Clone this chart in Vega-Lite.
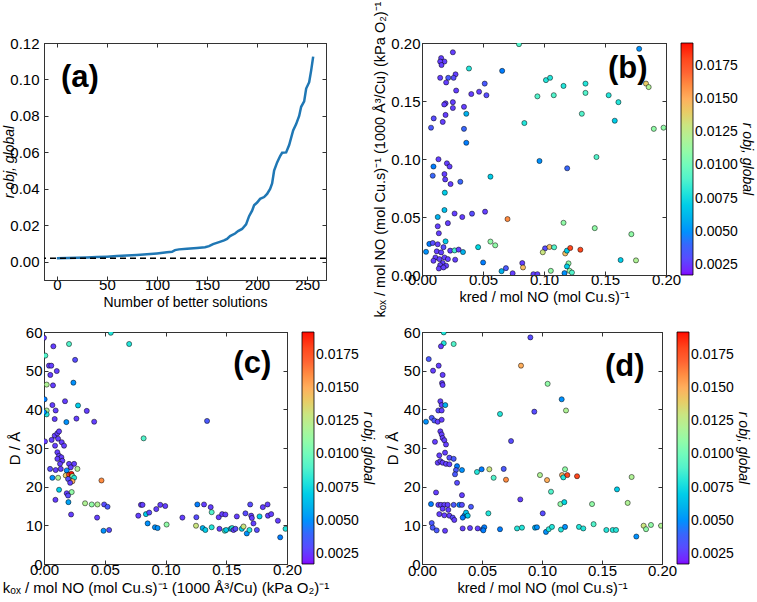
{
  "$schema": "https://vega.github.io/schema/vega-lite/v6.json",
  "background": "white",
  "padding": {"left": 1, "top": 0, "right": 0, "bottom": 0},
  "bounds": "flush",
  "columns": 2,
  "spacing": {"row": 52, "column": 96},
  "resolve": {"scale": {"color": "independent"}, "legend": {"color": "independent"}},
  "datasets": {
    "curve": [
      {"n": 0, "r": 0.0019}, {"n": 10, "r": 0.0020}, {"n": 20, "r": 0.0022}, {"n": 30, "r": 0.0024},
      {"n": 40, "r": 0.0026}, {"n": 50, "r": 0.0028}, {"n": 60, "r": 0.0031}, {"n": 70, "r": 0.0034},
      {"n": 80, "r": 0.0037}, {"n": 90, "r": 0.0041}, {"n": 100, "r": 0.0046}, {"n": 110, "r": 0.0052},
      {"n": 115, "r": 0.0055}, {"n": 118, "r": 0.0064}, {"n": 122, "r": 0.0068}, {"n": 130, "r": 0.0072},
      {"n": 140, "r": 0.0076}, {"n": 148, "r": 0.0080}, {"n": 152, "r": 0.0086}, {"n": 156, "r": 0.0097},
      {"n": 162, "r": 0.0108}, {"n": 167, "r": 0.0117}, {"n": 170, "r": 0.0125}, {"n": 173, "r": 0.0141},
      {"n": 178, "r": 0.0155}, {"n": 181, "r": 0.0168}, {"n": 185, "r": 0.0180}, {"n": 189, "r": 0.0205},
      {"n": 192, "r": 0.0250}, {"n": 195, "r": 0.0280}, {"n": 197, "r": 0.0310}, {"n": 200, "r": 0.0325},
      {"n": 203, "r": 0.0345}, {"n": 207, "r": 0.0355}, {"n": 210, "r": 0.0372}, {"n": 213, "r": 0.0400},
      {"n": 215, "r": 0.0430}, {"n": 217, "r": 0.0500}, {"n": 220, "r": 0.0545}, {"n": 223, "r": 0.0580},
      {"n": 225, "r": 0.0598}, {"n": 229, "r": 0.0600}, {"n": 232, "r": 0.0640}, {"n": 236, "r": 0.0720},
      {"n": 239, "r": 0.0755}, {"n": 242, "r": 0.0800}, {"n": 244, "r": 0.0850}, {"n": 247, "r": 0.0880},
      {"n": 249, "r": 0.0950}, {"n": 252, "r": 0.0985}, {"n": 254, "r": 0.1050}, {"n": 256, "r": 0.1125}
    ],
    "b": [
      {"kred": 0.0253, "kox": 0.192, "r": 0.0026}, {"kred": 0.0157, "kox": 0.187, "r": 0.0026},
      {"kred": 0.0184, "kox": 0.184, "r": 0.0026}, {"kred": 0.0149, "kox": 0.184, "r": 0.0026},
      {"kred": 0.016, "kox": 0.181, "r": 0.0026}, {"kred": 0.0385, "kox": 0.178, "r": 0.008},
      {"kred": 0.0657, "kox": 0.176, "r": 0.0045}, {"kred": 0.0795, "kox": 0.199, "r": 0.009},
      {"kred": 0.0275, "kox": 0.173, "r": 0.0026}, {"kred": 0.0259, "kox": 0.170, "r": 0.003},
      {"kred": 0.0215, "kox": 0.170, "r": 0.0035}, {"kred": 0.0149, "kox": 0.170, "r": 0.0026},
      {"kred": 0.0198, "kox": 0.166, "r": 0.0026}, {"kred": 0.0514, "kox": 0.165, "r": 0.0035},
      {"kred": 0.028, "kox": 0.159, "r": 0.0026}, {"kred": 0.0404, "kox": 0.156, "r": 0.0026},
      {"kred": 0.0468, "kox": 0.158, "r": 0.0026}, {"kred": 0.0528, "kox": 0.155, "r": 0.003},
      {"kred": 0.0946, "kox": 0.154, "r": 0.009}, {"kred": 0.0193, "kox": 0.148, "r": 0.0026},
      {"kred": 0.0182, "kox": 0.147, "r": 0.0026}, {"kred": 0.0253, "kox": 0.149, "r": 0.0026},
      {"kred": 0.0253, "kox": 0.144, "r": 0.0026}, {"kred": 0.0344, "kox": 0.145, "r": 0.0026},
      {"kred": 0.0363, "kox": 0.139, "r": 0.006}, {"kred": 0.0193, "kox": 0.138, "r": 0.0026},
      {"kred": 0.0096, "kox": 0.135, "r": 0.003}, {"kred": 0.017, "kox": 0.132, "r": 0.0026},
      {"kred": 0.0074, "kox": 0.127, "r": 0.0035}, {"kred": 0.0344, "kox": 0.126, "r": 0.004},
      {"kred": 0.0839, "kox": 0.131, "r": 0.008}, {"kred": 0.0363, "kox": 0.114, "r": 0.0045},
      {"kred": 0.0135, "kox": 0.0998, "r": 0.0026}, {"kred": 0.0204, "kox": 0.0963, "r": 0.0026},
      {"kred": 0.0226, "kox": 0.0935, "r": 0.0026}, {"kred": 0.0094, "kox": 0.0935, "r": 0.0045},
      {"kred": 0.0088, "kox": 0.0856, "r": 0.004}, {"kred": 0.0184, "kox": 0.087, "r": 0.0026},
      {"kred": 0.019, "kox": 0.0824, "r": 0.0026}, {"kred": 0.0234, "kox": 0.0784, "r": 0.0026},
      {"kred": 0.0314, "kox": 0.0804, "r": 0.004}, {"kred": 0.0561, "kox": 0.0848, "r": 0.007},
      {"kred": 0.0963, "kox": 0.0983, "r": 0.005}, {"kred": 0.0187, "kox": 0.071, "r": 0.007},
      {"kred": 0.0184, "kox": 0.056, "r": 0.0065}, {"kred": 0.0129, "kox": 0.050, "r": 0.006},
      {"kred": 0.0267, "kox": 0.053, "r": 0.0026}, {"kred": 0.033, "kox": 0.050, "r": 0.0026},
      {"kred": 0.041, "kox": 0.0529, "r": 0.003}, {"kred": 0.0517, "kox": 0.0546, "r": 0.0026},
      {"kred": 0.0212, "kox": 0.0447, "r": 0.0026}, {"kred": 0.0129, "kox": 0.042, "r": 0.0026},
      {"kred": 0.0138, "kox": 0.036, "r": 0.0026}, {"kred": 0.0701, "kox": 0.0482, "r": 0.016},
      {"kred": 0.006, "kox": 0.0268, "r": 0.0045}, {"kred": 0.0088, "kox": 0.0276, "r": 0.003},
      {"kred": 0.0033, "kox": 0.020, "r": 0.005}, {"kred": 0.0129, "kox": 0.0265, "r": 0.0026},
      {"kred": 0.0193, "kox": 0.029, "r": 0.007}, {"kred": 0.0121, "kox": 0.0204, "r": 0.0026},
      {"kred": 0.0157, "kox": 0.0195, "r": 0.0026}, {"kred": 0.0176, "kox": 0.024, "r": 0.003},
      {"kred": 0.0231, "kox": 0.021, "r": 0.0026}, {"kred": 0.0267, "kox": 0.0212, "r": 0.0085},
      {"kred": 0.03, "kox": 0.0219, "r": 0.0026}, {"kred": 0.0336, "kox": 0.0198, "r": 0.006},
      {"kred": 0.011, "kox": 0.0151, "r": 0.0026}, {"kred": 0.0143, "kox": 0.0137, "r": 0.0026},
      {"kred": 0.0184, "kox": 0.0151, "r": 0.0026}, {"kred": 0.0212, "kox": 0.0137, "r": 0.0026},
      {"kred": 0.0272, "kox": 0.0132, "r": 0.0026}, {"kred": 0.0094, "kox": 0.0123, "r": 0.0026},
      {"kred": 0.017, "kox": 0.0103, "r": 0.0026}, {"kred": 0.0149, "kox": 0.0085, "r": 0.0026},
      {"kred": 0.0198, "kox": 0.008, "r": 0.0026}, {"kred": 0.0138, "kox": 0.0056, "r": 0.0026},
      {"kred": 0.0176, "kox": 0.0065, "r": 0.0026}, {"kred": 0.046, "kox": 0.024, "r": 0.0075},
      {"kred": 0.0561, "kox": 0.0288, "r": 0.011}, {"kred": 0.06, "kox": 0.0256, "r": 0.011},
      {"kred": 0.0501, "kox": 0.0108, "r": 0.0045}, {"kred": 0.0652, "kox": 0.0033, "r": 0.006},
      {"kred": 0.0688, "kox": 0.0059, "r": 0.0035}, {"kred": 0.0743, "kox": 0.0015, "r": 0.0026},
      {"kred": 0.0822, "kox": 0.0103, "r": 0.0026}, {"kred": 0.0828, "kox": 0.0065, "r": 0.0145},
      {"kred": 0.0913, "kox": 0.0007, "r": 0.0026}, {"kred": 0.0946, "kox": 0.0007, "r": 0.0026},
      {"kred": 0.1016, "kox": 0.168, "r": 0.008}, {"kred": 0.105, "kox": 0.170, "r": 0.008},
      {"kred": 0.108, "kox": 0.155, "r": 0.009}, {"kred": 0.116, "kox": 0.163, "r": 0.008},
      {"kred": 0.134, "kox": 0.165, "r": 0.008}, {"kred": 0.134, "kox": 0.157, "r": 0.009},
      {"kred": 0.131, "kox": 0.139, "r": 0.009}, {"kred": 0.153, "kox": 0.155, "r": 0.008},
      {"kred": 0.161, "kox": 0.149, "r": 0.008}, {"kred": 0.158, "kox": 0.133, "r": 0.007},
      {"kred": 0.178, "kox": 0.195, "r": 0.005}, {"kred": 0.1836, "kox": 0.165, "r": 0.014},
      {"kred": 0.1858, "kox": 0.162, "r": 0.012}, {"kred": 0.19, "kox": 0.126, "r": 0.011},
      {"kred": 0.198, "kox": 0.127, "r": 0.011}, {"kred": 0.143, "kox": 0.1017, "r": 0.009},
      {"kred": 0.119, "kox": 0.092, "r": 0.004}, {"kred": 0.116, "kox": 0.045, "r": 0.011},
      {"kred": 0.1416, "kox": 0.0404, "r": 0.011}, {"kred": 0.1716, "kox": 0.0352, "r": 0.011},
      {"kred": 0.1009, "kox": 0.023, "r": 0.003}, {"kred": 0.1045, "kox": 0.0242, "r": 0.0145},
      {"kred": 0.099, "kox": 0.0196, "r": 0.013}, {"kred": 0.1083, "kox": 0.0239, "r": 0.009},
      {"kred": 0.1174, "kox": 0.0186, "r": 0.0145}, {"kred": 0.1188, "kox": 0.021, "r": 0.007},
      {"kred": 0.1215, "kox": 0.0233, "r": 0.018}, {"kred": 0.1298, "kox": 0.0218, "r": 0.018},
      {"kred": 0.1628, "kox": 0.0129, "r": 0.007}, {"kred": 0.1754, "kox": 0.0126, "r": 0.012},
      {"kred": 0.1201, "kox": 0.01, "r": 0.011}, {"kred": 0.1188, "kox": 0.0074, "r": 0.007},
      {"kred": 0.1056, "kox": 0.0036, "r": 0.011}, {"kred": 0.1168, "kox": 0.0016, "r": 0.005},
      {"kred": 0.121, "kox": 0.0036, "r": 0.011}, {"kred": 0.1229, "kox": 0.0021, "r": 0.009}
    ],
    "c": [
      {"kox": 0.0, "D": 58.5, "r": 0.0026}, {"kox": 0.0077, "D": 56.3, "r": 0.0026},
      {"kox": 0.0206, "D": 56.9, "r": 0.009}, {"kox": 0.055, "D": 59.8, "r": 0.008},
      {"kox": 0.0701, "D": 56.9, "r": 0.008}, {"kox": 0.0011, "D": 53.9, "r": 0.009},
      {"kox": 0.0256, "D": 52.8, "r": 0.003}, {"kox": 0.0041, "D": 51.3, "r": 0.0026},
      {"kox": 0.006, "D": 51.3, "r": 0.0026}, {"kox": 0.0105, "D": 49.9, "r": 0.0026},
      {"kox": 0.0052, "D": 48.9, "r": 0.0026}, {"kox": 0.0242, "D": 46.9, "r": 0.005},
      {"kox": 0.0022, "D": 46.4, "r": 0.012}, {"kox": 0.0074, "D": 46.2, "r": 0.0026},
      {"kox": 0.0005, "D": 42.6, "r": 0.0045}, {"kox": 0.0173, "D": 42.1, "r": 0.0026},
      {"kox": 0.0069, "D": 41.1, "r": 0.0026}, {"kox": 0.028, "D": 41.0, "r": 0.007},
      {"kox": 0.0352, "D": 39.6, "r": 0.0026}, {"kox": 0.0413, "D": 36.8, "r": 0.0026},
      {"kox": 0.0022, "D": 39.7, "r": 0.012}, {"kox": 0.0022, "D": 38.7, "r": 0.008},
      {"kox": 0.0, "D": 39.3, "r": 0.005}, {"kox": 0.0096, "D": 39.7, "r": 0.0026},
      {"kox": 0.0088, "D": 37.5, "r": 0.0026}, {"kox": 0.0267, "D": 37.6, "r": 0.0026},
      {"kox": 0.0184, "D": 36.7, "r": 0.005}, {"kox": 0.0008, "D": 31.7, "r": 0.0026},
      {"kox": 0.0088, "D": 33.2, "r": 0.0026}, {"kox": 0.011, "D": 33.8, "r": 0.0026},
      {"kox": 0.0124, "D": 34.3, "r": 0.0026}, {"kox": 0.0063, "D": 32.1, "r": 0.0026},
      {"kox": 0.0116, "D": 32.4, "r": 0.0026}, {"kox": 0.0091, "D": 30.6, "r": 0.0026},
      {"kox": 0.0146, "D": 31.5, "r": 0.0026}, {"kox": 0.0165, "D": 30.6, "r": 0.0026},
      {"kox": 0.011, "D": 28.9, "r": 0.0026}, {"kox": 0.0124, "D": 28.0, "r": 0.0026},
      {"kox": 0.0143, "D": 27.6, "r": 0.0026}, {"kox": 0.011, "D": 27.2, "r": 0.0026},
      {"kox": 0.0151, "D": 26.7, "r": 0.0026}, {"kox": 0.0132, "D": 25.9, "r": 0.0026},
      {"kox": 0.0206, "D": 25.9, "r": 0.0026}, {"kox": 0.0248, "D": 25.9, "r": 0.0026},
      {"kox": 0.022, "D": 25.0, "r": 0.0026}, {"kox": 0.005, "D": 24.6, "r": 0.003},
      {"kox": 0.0096, "D": 24.3, "r": 0.0026}, {"kox": 0.0138, "D": 24.6, "r": 0.0026},
      {"kox": 0.0187, "D": 24.2, "r": 0.005}, {"kox": 0.0275, "D": 24.6, "r": 0.012},
      {"kox": 0.0069, "D": 22.3, "r": 0.005}, {"kox": 0.0116, "D": 22.3, "r": 0.012},
      {"kox": 0.0179, "D": 22.9, "r": 0.014}, {"kox": 0.0206, "D": 23.1, "r": 0.018},
      {"kox": 0.0226, "D": 23.3, "r": 0.019}, {"kox": 0.0234, "D": 22.7, "r": 0.011},
      {"kox": 0.0248, "D": 22.3, "r": 0.008}, {"kox": 0.0198, "D": 22.0, "r": 0.003},
      {"kox": 0.0234, "D": 21.4, "r": 0.015}, {"kox": 0.0215, "D": 21.0, "r": 0.0026},
      {"kox": 0.0473, "D": 21.6, "r": 0.016}, {"kox": 0.0124, "D": 19.2, "r": 0.007},
      {"kox": 0.0228, "D": 18.6, "r": 0.011}, {"kox": 0.0187, "D": 18.3, "r": 0.0026},
      {"kox": 0.0198, "D": 17.7, "r": 0.003}, {"kox": 0.0338, "D": 15.7, "r": 0.012},
      {"kox": 0.0393, "D": 15.4, "r": 0.011}, {"kox": 0.044, "D": 15.4, "r": 0.012},
      {"kox": 0.0495, "D": 15.4, "r": 0.003}, {"kox": 0.0523, "D": 14.8, "r": 0.0035},
      {"kox": 0.0094, "D": 16.6, "r": 0.0026}, {"kox": 0.0201, "D": 16.0, "r": 0.0055},
      {"kox": 0.0223, "D": 12.8, "r": 0.0026}, {"kox": 0.0437, "D": 12.0, "r": 0.0026},
      {"kox": 0.049, "D": 8.6, "r": 0.005}, {"kox": 0.0536, "D": 8.8, "r": 0.003},
      {"kox": 0.0798, "D": 15.3, "r": 0.0026}, {"kox": 0.0811, "D": 15.3, "r": 0.0026},
      {"kox": 0.0776, "D": 12.5, "r": 0.0026}, {"kox": 0.0839, "D": 12.9, "r": 0.007},
      {"kox": 0.0853, "D": 10.5, "r": 0.005}, {"kox": 0.0866, "D": 13.3, "r": 0.003},
      {"kox": 0.0924, "D": 14.2, "r": 0.0026}, {"kox": 0.0913, "D": 9.5, "r": 0.005},
      {"kox": 0.0935, "D": 9.3, "r": 0.005}, {"kox": 0.0957, "D": 15.3, "r": 0.0026},
      {"kox": 0.0998, "D": 15.0, "r": 0.0026}, {"kox": 0.1009, "D": 10.2, "r": 0.011},
      {"kox": 0.082, "D": 32.5, "r": 0.009}, {"kox": 0.1342, "D": 37.0, "r": 0.0035},
      {"kox": 0.1139, "D": 12.0, "r": 0.0026}, {"kox": 0.1254, "D": 12.1, "r": 0.003},
      {"kox": 0.1262, "D": 15.4, "r": 0.0045}, {"kox": 0.1317, "D": 15.4, "r": 0.0026},
      {"kox": 0.1372, "D": 14.7, "r": 0.0026}, {"kox": 0.1251, "D": 9.9, "r": 0.013},
      {"kox": 0.1306, "D": 9.3, "r": 0.006}, {"kox": 0.1328, "D": 8.8, "r": 0.007},
      {"kox": 0.138, "D": 13.4, "r": 0.009}, {"kox": 0.138, "D": 9.5, "r": 0.008},
      {"kox": 0.1438, "D": 12.1, "r": 0.0026}, {"kox": 0.1466, "D": 12.9, "r": 0.0026},
      {"kox": 0.1493, "D": 12.8, "r": 0.0026}, {"kox": 0.1444, "D": 9.1, "r": 0.0026},
      {"kox": 0.1488, "D": 8.6, "r": 0.009}, {"kox": 0.1499, "D": 8.8, "r": 0.007},
      {"kox": 0.1537, "D": 9.1, "r": 0.006}, {"kox": 0.1548, "D": 9.3, "r": 0.008},
      {"kox": 0.156, "D": 8.8, "r": 0.0026}, {"kox": 0.1576, "D": 9.1, "r": 0.003},
      {"kox": 0.1587, "D": 12.3, "r": 0.0026}, {"kox": 0.1628, "D": 9.1, "r": 0.007},
      {"kox": 0.1642, "D": 9.7, "r": 0.013}, {"kox": 0.1658, "D": 13.1, "r": 0.003},
      {"kox": 0.1669, "D": 7.9, "r": 0.005}, {"kox": 0.1691, "D": 8.8, "r": 0.008},
      {"kox": 0.1697, "D": 15.4, "r": 0.003}, {"kox": 0.1705, "D": 12.5, "r": 0.0026},
      {"kox": 0.1711, "D": 11.9, "r": 0.0026}, {"kox": 0.1724, "D": 10.5, "r": 0.0026},
      {"kox": 0.1752, "D": 8.8, "r": 0.003}, {"kox": 0.1774, "D": 12.3, "r": 0.007},
      {"kox": 0.1801, "D": 14.7, "r": 0.0026}, {"kox": 0.184, "D": 15.4, "r": 0.0026},
      {"kox": 0.1843, "D": 12.5, "r": 0.0026}, {"kox": 0.187, "D": 12.9, "r": 0.0026},
      {"kox": 0.1925, "D": 11.2, "r": 0.0026}, {"kox": 0.1944, "D": 6.9, "r": 0.0045},
      {"kox": 0.1988, "D": 9.1, "r": 0.008}
    ],
    "d": [
      {"kred": 0.0181, "D": 59.9, "r": 0.008}, {"kred": 0.0181, "D": 57.1, "r": 0.008},
      {"kred": 0.0264, "D": 56.9, "r": 0.009}, {"kred": 0.0158, "D": 56.3, "r": 0.0026},
      {"kred": 0.0903, "D": 58.6, "r": 0.003}, {"kred": 0.0056, "D": 53.0, "r": 0.0035},
      {"kred": 0.0139, "D": 51.3, "r": 0.0026}, {"kred": 0.0092, "D": 50.0, "r": 0.0026},
      {"kred": 0.0172, "D": 48.9, "r": 0.0026}, {"kred": 0.0167, "D": 46.8, "r": 0.0026},
      {"kred": 0.0172, "D": 46.3, "r": 0.0026}, {"kred": 0.0825, "D": 51.3, "r": 0.015},
      {"kred": 0.0153, "D": 42.1, "r": 0.0026}, {"kred": 0.0164, "D": 41.1, "r": 0.0026},
      {"kred": 0.0194, "D": 41.1, "r": 0.006}, {"kred": 0.0136, "D": 39.7, "r": 0.003},
      {"kred": 0.0164, "D": 39.7, "r": 0.0026}, {"kred": 0.0081, "D": 37.8, "r": 0.0035},
      {"kred": 0.0033, "D": 36.8, "r": 0.005}, {"kred": 0.0103, "D": 37.1, "r": 0.0035},
      {"kred": 0.0131, "D": 36.8, "r": 0.0026}, {"kred": 0.0164, "D": 37.3, "r": 0.0026},
      {"kred": 0.065, "D": 38.8, "r": 0.008}, {"kred": 0.0936, "D": 39.4, "r": 0.003},
      {"kred": 0.0153, "D": 34.3, "r": 0.0026}, {"kred": 0.0164, "D": 33.5, "r": 0.0026},
      {"kred": 0.0172, "D": 32.6, "r": 0.0026}, {"kred": 0.0108, "D": 31.6, "r": 0.0026},
      {"kred": 0.0186, "D": 32.0, "r": 0.0026}, {"kred": 0.02, "D": 30.9, "r": 0.0026},
      {"kred": 0.0742, "D": 31.8, "r": 0.003}, {"kred": 0.0144, "D": 28.1, "r": 0.0026},
      {"kred": 0.0192, "D": 28.8, "r": 0.0026}, {"kred": 0.0131, "D": 26.2, "r": 0.0026},
      {"kred": 0.0153, "D": 26.6, "r": 0.0026}, {"kred": 0.0172, "D": 26.2, "r": 0.0026},
      {"kred": 0.02, "D": 25.9, "r": 0.0026}, {"kred": 0.0228, "D": 25.8, "r": 0.0026},
      {"kred": 0.0228, "D": 27.5, "r": 0.003}, {"kred": 0.0264, "D": 27.2, "r": 0.0035},
      {"kred": 0.0292, "D": 25.3, "r": 0.0045}, {"kred": 0.0283, "D": 24.3, "r": 0.0035},
      {"kred": 0.0275, "D": 23.2, "r": 0.0035}, {"kred": 0.0333, "D": 24.3, "r": 0.005},
      {"kred": 0.0458, "D": 23.8, "r": 0.008}, {"kred": 0.0497, "D": 24.5, "r": 0.0045},
      {"kred": 0.0561, "D": 24.5, "r": 0.013}, {"kred": 0.0597, "D": 22.3, "r": 0.009},
      {"kred": 0.0681, "D": 24.6, "r": 0.0035}, {"kred": 0.07, "D": 21.8, "r": 0.016},
      {"kred": 0.0292, "D": 21.0, "r": 0.003}, {"kred": 0.0117, "D": 18.5, "r": 0.0026},
      {"kred": 0.0333, "D": 17.8, "r": 0.0026}, {"kred": 0.0075, "D": 15.5, "r": 0.0045},
      {"kred": 0.0136, "D": 15.3, "r": 0.0026}, {"kred": 0.0158, "D": 15.3, "r": 0.0026},
      {"kred": 0.0186, "D": 15.3, "r": 0.0026}, {"kred": 0.0214, "D": 15.3, "r": 0.0026},
      {"kred": 0.0264, "D": 15.3, "r": 0.0035}, {"kred": 0.0311, "D": 15.3, "r": 0.0045},
      {"kred": 0.0333, "D": 15.3, "r": 0.003}, {"kred": 0.0408, "D": 14.8, "r": 0.0035},
      {"kred": 0.0172, "D": 14.3, "r": 0.0026}, {"kred": 0.0219, "D": 14.0, "r": 0.0026},
      {"kred": 0.0144, "D": 12.9, "r": 0.0026}, {"kred": 0.0186, "D": 12.6, "r": 0.0026},
      {"kred": 0.0228, "D": 12.5, "r": 0.0026}, {"kred": 0.0256, "D": 12.0, "r": 0.003},
      {"kred": 0.0269, "D": 11.4, "r": 0.0026}, {"kred": 0.0353, "D": 12.5, "r": 0.0045},
      {"kred": 0.0367, "D": 13.3, "r": 0.0065}, {"kred": 0.0381, "D": 12.5, "r": 0.007},
      {"kred": 0.0339, "D": 12.0, "r": 0.0045}, {"kred": 0.0553, "D": 13.1, "r": 0.008},
      {"kred": 0.0819, "D": 16.7, "r": 0.0026}, {"kred": 0.0081, "D": 10.6, "r": 0.0035},
      {"kred": 0.0089, "D": 9.4, "r": 0.0035}, {"kred": 0.0122, "D": 8.7, "r": 0.0035},
      {"kred": 0.0192, "D": 8.6, "r": 0.0026}, {"kred": 0.0339, "D": 9.2, "r": 0.0026},
      {"kred": 0.04, "D": 9.3, "r": 0.0026}, {"kred": 0.0464, "D": 9.2, "r": 0.0026},
      {"kred": 0.0506, "D": 9.0, "r": 0.0035}, {"kred": 0.0519, "D": 9.5, "r": 0.0045},
      {"kred": 0.0511, "D": 8.7, "r": 0.0045}, {"kred": 0.065, "D": 9.0, "r": 0.0045},
      {"kred": 0.0792, "D": 9.2, "r": 0.008}, {"kred": 0.0833, "D": 9.4, "r": 0.008},
      {"kred": 0.0942, "D": 9.4, "r": 0.006}, {"kred": 0.1047, "D": 46.6, "r": 0.011},
      {"kred": 0.1164, "D": 42.6, "r": 0.005}, {"kred": 0.12, "D": 39.7, "r": 0.012},
      {"kred": 0.0983, "D": 23.0, "r": 0.012}, {"kred": 0.1042, "D": 21.7, "r": 0.015},
      {"kred": 0.1075, "D": 18.7, "r": 0.009}, {"kred": 0.1167, "D": 23.0, "r": 0.015},
      {"kred": 0.1192, "D": 24.5, "r": 0.011}, {"kred": 0.1178, "D": 22.4, "r": 0.008},
      {"kred": 0.1211, "D": 23.0, "r": 0.018}, {"kred": 0.1292, "D": 22.7, "r": 0.018},
      {"kred": 0.1153, "D": 15.5, "r": 0.011}, {"kred": 0.1186, "D": 16.0, "r": 0.0075},
      {"kred": 0.1417, "D": 15.5, "r": 0.011}, {"kred": 0.1625, "D": 19.3, "r": 0.007},
      {"kred": 0.1714, "D": 15.8, "r": 0.012}, {"kred": 0.1747, "D": 22.5, "r": 0.012},
      {"kred": 0.1158, "D": 8.9, "r": 0.008}, {"kred": 0.1192, "D": 9.6, "r": 0.005},
      {"kred": 0.1006, "D": 13.1, "r": 0.003}, {"kred": 0.1033, "D": 8.3, "r": 0.005},
      {"kred": 0.1056, "D": 9.0, "r": 0.008}, {"kred": 0.1083, "D": 9.6, "r": 0.008},
      {"kred": 0.0958, "D": 9.5, "r": 0.005}, {"kred": 0.1308, "D": 9.6, "r": 0.008},
      {"kred": 0.1344, "D": 9.2, "r": 0.008}, {"kred": 0.143, "D": 10.3, "r": 0.009},
      {"kred": 0.1536, "D": 8.8, "r": 0.008}, {"kred": 0.1589, "D": 8.8, "r": 0.008},
      {"kred": 0.1617, "D": 8.8, "r": 0.008}, {"kred": 0.1786, "D": 7.1, "r": 0.005},
      {"kred": 0.1847, "D": 9.9, "r": 0.013}, {"kred": 0.1867, "D": 9.0, "r": 0.011},
      {"kred": 0.1908, "D": 10.1, "r": 0.011}, {"kred": 0.1992, "D": 9.9, "r": 0.012}
    ]
  },
  "concat": [
    {
      "width": 282,
      "height": 237,
      "resolve": {"axis": {"x": "independent", "y": "independent"}},
      "layer": [
        {
          "data": {"name": "curve"},
          "mark": {"type": "line", "color": "#1f77b4", "strokeWidth": 2.5},
          "encoding": {
            "x": {"field": "n", "type": "quantitative", "scale": {"domain": [-12.8, 268.8], "nice": false, "zero": false},
                  "axis": {"values": [0, 50, 100, 150, 200, 250], "title": "Number of better solutions", "labelPadding": 1}},
            "y": {"field": "r", "type": "quantitative", "scale": {"domain": [-0.01, 0.12], "nice": false},
                  "axis": {"values": [0, 0.02, 0.04, 0.06, 0.08, 0.1, 0.12], "format": ".2f", "title": "r obj, global", "titleFontStyle": "italic", "titleX": -28, "titleBaseline": "bottom", "labelPadding": 9}}
          }
        },
        {
          "data": {"values": [{"best": 0.0019}]},
          "mark": {"type": "rule", "color": "black", "strokeDash": [6, 4], "strokeWidth": 1.5},
          "encoding": {"y": {"field": "best", "type": "quantitative", "scale": {"domain": [-0.01, 0.12], "nice": false}, "axis": null}}
        },
        {
          "data": {"values": [{"n": 23, "r": 0.101, "label": "(a)"}]},
          "mark": {"type": "text", "fontSize": 31, "fontWeight": "bold", "font": "Liberation Sans"},
          "encoding": {
            "x": {"field": "n", "type": "quantitative", "scale": {"domain": [-12.8, 268.8], "nice": false, "zero": false},
                  "axis": {"orient": "top", "labels": false, "title": null, "values": [0, 50, 100, 150, 200, 250]}},
            "y": {"field": "r", "type": "quantitative", "scale": {"domain": [-0.01, 0.12], "nice": false},
                  "axis": {"orient": "right", "labels": false, "title": null, "values": [0, 0.02, 0.04, 0.06, 0.08, 0.1, 0.12]}},
            "text": {"field": "label"}
          }
        }
      ]
    },
    {
      "width": 244,
      "height": 232,
      "resolve": {"axis": {"x": "independent", "y": "independent"}},
      "layer": [
        {
          "data": {"name": "b"},
          "mark": {"type": "circle", "size": 26, "opacity": 1, "stroke": "black", "strokeWidth": 0.5, "clip": true},
          "encoding": {
            "x": {"field": "kred", "type": "quantitative", "scale": {"domain": [0, 0.2], "nice": false},
                  "axis": {"values": [0, 0.05, 0.1, 0.15, 0.2], "format": ".2f", "title": "kred / mol NO (mol Cu.s)⁻¹", "titleFontSize": 14.5, "labelPadding": 1.5}},
            "y": {"field": "kox", "type": "quantitative", "scale": {"domain": [0, 0.2], "nice": false},
                  "axis": {"values": [0, 0.05, 0.1, 0.15, 0.2], "format": ".2f", "title": "kₒₓ / mol NO (mol Cu.s)⁻¹ (1000 Å³/Cu) (kPa O₂)⁻¹", "titleFontSize": 14.5}},
            "color": {"field": "r", "type": "quantitative",
                      "scale": {"domain": [0.00175, 0.00393, 0.00611, 0.00829, 0.01048, 0.01266, 0.01484, 0.01702, 0.0192],
                                "range": ["#8000ff", "#4062fa", "#00b4eb", "#40ecd4", "#80ffb4", "#c0ec8e", "#ffb462", "#ff6232", "#ff0000"]},
                      "legend": {"title": "r obj, global", "values": [0.0025, 0.005, 0.0075, 0.01, 0.0125, 0.015, 0.0175], "format": ".4f", "gradientLength": 232,
                                 "encode": {"title": {"update": {"angle": {"value": -90}, "baseline": {"value": "top"}}}}}}
          }
        },
        {
          "data": {"values": [{"kred": 0.1686, "kox": 0.1772, "label": "(b)"}]},
          "mark": {"type": "text", "fontSize": 31, "fontWeight": "bold", "font": "Liberation Sans"},
          "encoding": {
            "x": {"field": "kred", "type": "quantitative", "scale": {"domain": [0, 0.2], "nice": false},
                  "axis": {"orient": "top", "labels": false, "title": null, "values": [0, 0.05, 0.1, 0.15, 0.2]}},
            "y": {"field": "kox", "type": "quantitative", "scale": {"domain": [0, 0.2], "nice": false},
                  "axis": {"orient": "right", "labels": false, "title": null, "values": [0, 0.05, 0.1, 0.15, 0.2]}},
            "text": {"field": "label"}
          }
        }
      ]
    },
    {
      "width": 243,
      "height": 232,
      "resolve": {"axis": {"x": "independent", "y": "independent"}},
      "layer": [
        {
          "data": {"name": "c"},
          "mark": {"type": "circle", "size": 26, "opacity": 1, "stroke": "black", "strokeWidth": 0.5, "clip": true},
          "encoding": {
            "x": {"field": "kox", "type": "quantitative", "scale": {"domain": [0, 0.2], "nice": false},
                  "axis": {"values": [0, 0.05, 0.1, 0.15, 0.2], "format": ".2f", "title": "kₒₓ / mol NO (mol Cu.s)⁻¹ (1000 Å³/Cu) (kPa O₂)⁻¹", "titleFontSize": 15, "labelPadding": 2}},
            "y": {"field": "D", "type": "quantitative", "scale": {"domain": [0, 60], "nice": false},
                  "axis": {"values": [0, 10, 20, 30, 40, 50, 60], "title": "D / Å", "titleFontSize": 15}},
            "color": {"field": "r", "type": "quantitative",
                      "scale": {"domain": [0.00175, 0.00393, 0.00611, 0.00829, 0.01048, 0.01266, 0.01484, 0.01702, 0.0192],
                                "range": ["#8000ff", "#4062fa", "#00b4eb", "#40ecd4", "#80ffb4", "#c0ec8e", "#ffb462", "#ff6232", "#ff0000"]},
                      "legend": {"title": "r obj, global", "values": [0.0025, 0.005, 0.0075, 0.01, 0.0125, 0.015, 0.0175], "format": ".4f", "gradientLength": 232,
                                 "encode": {"title": {"update": {"angle": {"value": -90}, "baseline": {"value": "top"}}}}}}
          }
        },
        {
          "data": {"values": [{"kox": 0.1714, "D": 51.8, "label": "(c)"}]},
          "mark": {"type": "text", "fontSize": 31, "fontWeight": "bold", "font": "Liberation Sans"},
          "encoding": {
            "x": {"field": "kox", "type": "quantitative", "scale": {"domain": [0, 0.2], "nice": false},
                  "axis": {"orient": "top", "labels": false, "title": null, "values": [0, 0.05, 0.1, 0.15, 0.2]}},
            "y": {"field": "D", "type": "quantitative", "scale": {"domain": [0, 60], "nice": false},
                  "axis": {"orient": "right", "labels": false, "title": null, "values": [0, 10, 20, 30, 40, 50, 60]}},
            "text": {"field": "label"}
          }
        }
      ]
    },
    {
      "width": 240,
      "height": 232,
      "resolve": {"axis": {"x": "independent", "y": "independent"}},
      "layer": [
        {
          "data": {"name": "d"},
          "mark": {"type": "circle", "size": 26, "opacity": 1, "stroke": "black", "strokeWidth": 0.5, "clip": true},
          "encoding": {
            "x": {"field": "kred", "type": "quantitative", "scale": {"domain": [0, 0.2], "nice": false},
                  "axis": {"values": [0, 0.05, 0.1, 0.15, 0.2], "format": ".2f", "title": "kred / mol NO (mol Cu.s)⁻¹", "titleFontSize": 14.5, "labelPadding": 3}},
            "y": {"field": "D", "type": "quantitative", "scale": {"domain": [0, 60], "nice": false},
                  "axis": {"values": [0, 10, 20, 30, 40, 50, 60], "title": "D / Å", "titleFontSize": 15}},
            "color": {"field": "r", "type": "quantitative",
                      "scale": {"domain": [0.00175, 0.00393, 0.00611, 0.00829, 0.01048, 0.01266, 0.01484, 0.01702, 0.0192],
                                "range": ["#8000ff", "#4062fa", "#00b4eb", "#40ecd4", "#80ffb4", "#c0ec8e", "#ffb462", "#ff6232", "#ff0000"]},
                      "legend": {"title": "r obj, global", "values": [0.0025, 0.005, 0.0075, 0.01, 0.0125, 0.015, 0.0175], "format": ".4f", "gradientLength": 232,
                                 "encode": {"title": {"update": {"angle": {"value": -90}, "baseline": {"value": "top"}}}}}}
          }
        },
        {
          "data": {"values": [{"kred": 0.1689, "D": 51.0, "label": "(d)"}]},
          "mark": {"type": "text", "fontSize": 31, "fontWeight": "bold", "font": "Liberation Sans"},
          "encoding": {
            "x": {"field": "kred", "type": "quantitative", "scale": {"domain": [0, 0.2], "nice": false},
                  "axis": {"orient": "top", "labels": false, "title": null, "values": [0, 0.05, 0.1, 0.15, 0.2]}},
            "y": {"field": "D", "type": "quantitative", "scale": {"domain": [0, 60], "nice": false},
                  "axis": {"orient": "right", "labels": false, "title": null, "values": [0, 10, 20, 30, 40, 50, 60]}},
            "text": {"field": "label"}
          }
        }
      ]
    }
  ],
  "config": {
    "font": "Liberation Sans",
    "view": {"stroke": "#333333", "strokeWidth": 1},
    "axis": {
      "grid": false,
      "domainColor": "#333333",
      "tickColor": "#333333",
      "labelColor": "black",
      "titleColor": "black",
      "labelFontSize": 15,
      "titleFontSize": 14,
      "titleFontWeight": "normal",
      "tickSize": -4,
      "labelPadding": 6,
      "labelFlush": false,
      "labelOverlap": false,
      "titlePadding": 3
    },
    "legend": {
      "orient": "right",
      "offset": 14,
      "direction": "vertical",
      "gradientThickness": 12,
      "gradientStrokeColor": "black",
      "gradientStrokeWidth": 0.8,
      "labelFontSize": 14,
      "labelColor": "black",
      "labelOverlap": false,
      "labelOffset": 2,
      "titleFontSize": 14,
      "titleFontWeight": "normal",
      "titleFontStyle": "italic",
      "titleColor": "black",
      "titleOrient": "right",
      "titleAnchor": "middle",
      "titlePadding": 2
    }
  }
}
